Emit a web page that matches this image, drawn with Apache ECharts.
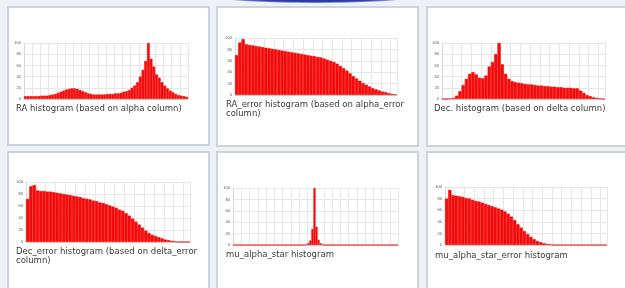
<!DOCTYPE html>
<html>
<head>
<meta charset="utf-8">
<script src="https://cdn.jsdelivr.net/npm/echarts@6/dist/echarts.min.js"></script>
<style>
  html, body { margin: 0; padding: 0; background: #eef1f6; }
  #main { width: 625px; height: 288px; }
</style>
</head>
<body>
<div id="main"></div>
<script>
// 直方图计数（按图片读数估计，峰值归一到约 100）
const raCounts = [5,5,5,5,5,5,6,6,6,7,8,9,11,13,15,17,18,19,19,18,16,14,12,10,9,8,8,8,8,8,
  9,9,9,10,10,11,13,14,16,20,24,30,40,52,68,100,72,58,44,38,30,24,19,15,12,9,7,6,5,4];
const raErrCounts = [70,92,98,89,88,87,86,85,84,83,82,81,80,79,78,77,76,75,74,73,
  72,71,70,69,68,67,66,64,62,60,58,55,51,47,43,38,33,29,25,21,18,15,12,10,8,6,5,3,2,1];
const decCounts = [0,0,1,2,6,14,25,36,45,48,44,38,37,42,58,66,80,100,62,45,
  36,32,30,29,28,27,26,26,25,24,24,23,23,22,22,21,21,20,20,20,19,19,15,11,7,5,3,2,1,0];
const decErrCounts = [72,93,95,86,85,85,84,84,83,82,81,80,79,78,77,76,75,73,72,71,
  69,68,66,65,63,61,59,57,54,52,48,44,39,34,29,24,19,15,12,10,8,6,4,3,2,1,0,0,0,0];
const muCounts = [0,0,0,0,0,0,0,0,0,0,0,0,0,0,0,0,0,0,0,0,0,0,0,0,0,0,0,0,0,0,
  0,0,0,0,0,1,3,8,28,100,32,9,3,1,0,0,0,0,0,0,0,0,0,0,0,0,0,0,0,0,
  0,0,0,0,0,0,0,0,0,0,0,0,0,0,0,0,0,0,0,0];
const muErrCounts = [80,95,86,85,84,83,81,80,78,76,75,73,71,69,67,65,63,61,58,54,
  49,43,36,30,24,19,14,10,7,5,3,2,1,0,0,0,0,0,0,0,0,0,0,0,0,0,0,0,0,0];

const captions = [
  'RA histogram (based on alpha column)',
  'RA_error histogram (based on alpha_error\ncolumn)',
  'Dec. histogram (based on delta column)',
  'Dec_error histogram (based on delta_error\ncolumn)',
  'mu_alpha_star histogram',
  'mu_alpha_star_error histogram'
];
const yTicks = [0, 20, 40, 60, 80, 100];

// 版面：卡片框、绘图区、标题位置
const cards = [[8,7,201,138],[217,7,201,139],[427,7,200,139],[8,152,201,140],[217,152,201,140],[427,152,200,140]];
const grids = [[24,43,164,56],[235,38,162,57],[442,43,163,56],[26,182,164,60],[233,188,165,57],[445,187,162,58]];
const capPos = [[16,104],[226,100],[434,104],[16,247],[226,250],[435,251]];
const series = [raCounts, raErrCounts, decCounts, decErrCounts, muCounts, muErrCounts];
const splitEvery = [2,2,2,2,3,2];

const chart = echarts.init(document.getElementById('main'));

const graphic = [{
  type: 'circle', x: 315, y: -4, scaleY: 0.07,
  shape: { cx: 0, cy: 0, r: 100 },
  style: { fill: new echarts.graphic.RadialGradient(0.5, 0.5, 0.5, [
    { offset: 0, color: '#1a2580' }, { offset: 0.8, color: '#2d3ea6' }, { offset: 1, color: '#8d9ddd' }]) }
}];
cards.forEach(c => graphic.push({
  type: 'rect', shape: { x: c[0], y: c[1], width: c[2], height: c[3] },
  style: { fill: '#fff', stroke: '#cdd3dd', lineWidth: 2 }, z: -10
}));
captions.forEach((t, i) => graphic.push({
  type: 'text', x: capPos[i][0], y: capPos[i][1],
  style: { text: t, fill: '#3a3a3a', font: '8.5px "DejaVu Sans", Arial', lineHeight: 9 }
}));

const option = {
  animation: false,
  backgroundColor: '#eef1f6',
  graphic: graphic,
  grid: grids.map(g => ({ left: g[0], top: g[1], width: g[2], height: g[3], containLabel: false })),
  xAxis: series.map((d, i) => ({
    type: 'category', gridIndex: i,
    data: d.map((_, k) => k),
    axisLine: { lineStyle: { color: '#d8d8d8' } },
    axisTick: { show: false }, axisLabel: { show: false },
    splitLine: { show: true, interval: splitEvery[i], lineStyle: { color: '#e6e6e6', width: 1 } }
  })),
  yAxis: series.map((d, i) => ({
    type: 'value', gridIndex: i, min: yTicks[0], max: yTicks[yTicks.length - 1], interval: 20,
    axisLine: { show: true, lineStyle: { color: '#d8d8d8' } },
    axisTick: { show: false },
    axisLabel: { fontSize: 4, color: '#555', margin: 3 },
    splitLine: { lineStyle: { color: '#e6e6e6' } }
  })),
  series: series.map((d, i) => ({
    type: 'bar', xAxisIndex: i, yAxisIndex: i, data: d,
    barCategoryGap: '0%', barGap: '0%',
    itemStyle: { color: '#f50a0a', borderColor: '#f50a0a', borderWidth: 0.6 }
  }))
};
chart.setOption(option);
</script>
</body>
</html>
